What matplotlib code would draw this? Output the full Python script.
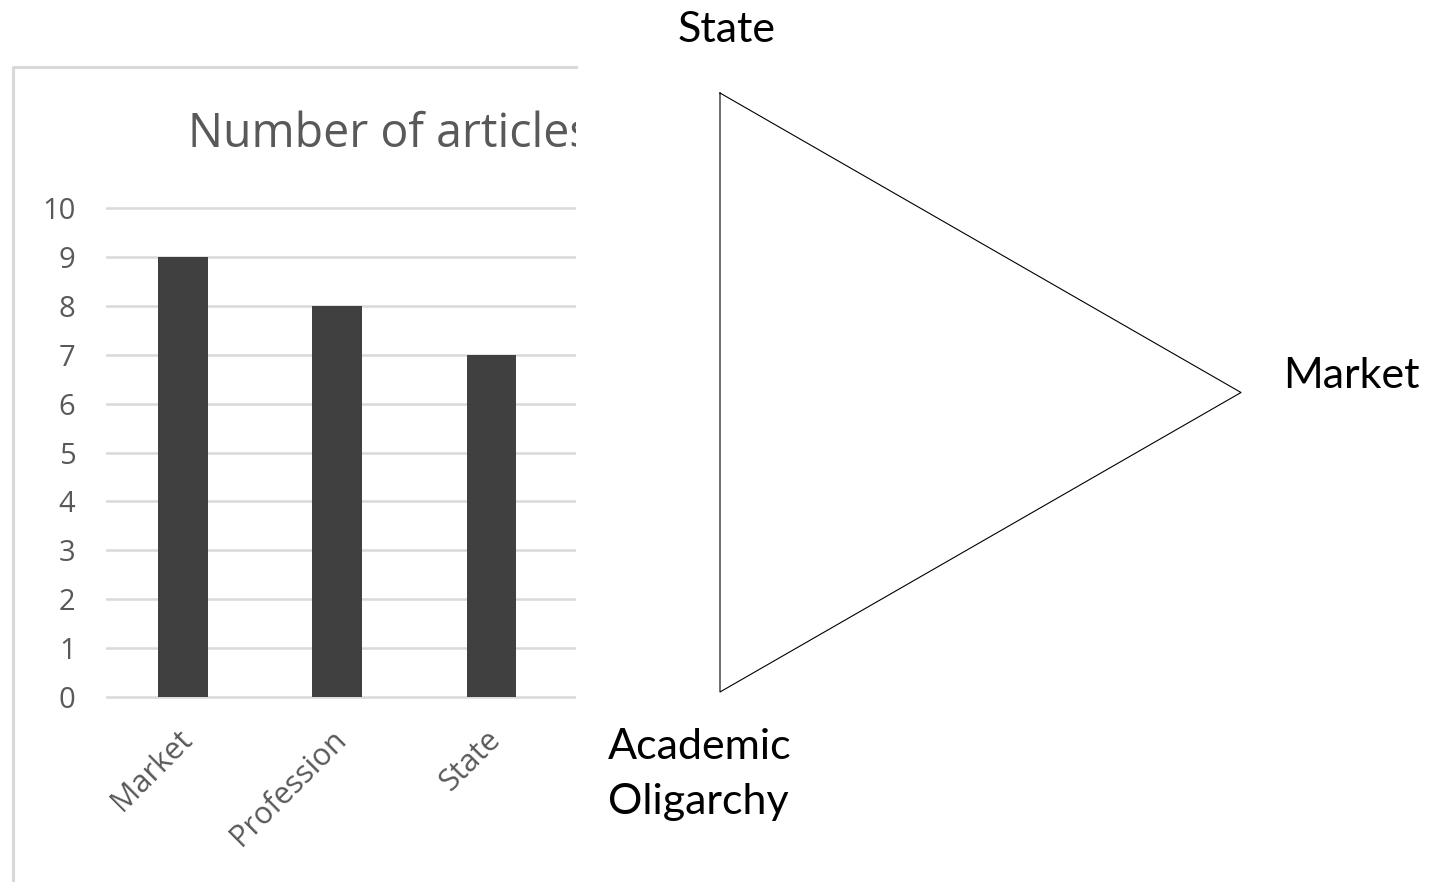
import matplotlib.pyplot as plt
from matplotlib.lines import Line2D
from matplotlib.transforms import Bbox, ScaledTranslation

# 記事数（左の棒グラフ）
categories = ["Market", "Profession", "State"]
articles = [9, 8, 7]
y_ticks = [0, 1, 2, 3, 4, 5, 6, 7, 8, 9, 10]
chart_title = "Number of articles"

# 三角形の頂点（右の図）
corner_labels = ["State", "Market", "Academic\nOligarchy"]
corner_x = [0, 1, 0]
corner_y = [1, 0.5, 0]

W, H = 1430, 882
GRAY = "#595959"
LIGHT = "#d9d9d9"

fig = plt.figure(figsize=(W / 100, H / 100), dpi=100)


def fx(px):
    return px / W


def fy(py):
    return 1 - py / H


# 棒グラフの外枠（右側は切れている）
fig.add_artist(Line2D([fx(13), fx(13), fx(576)], [0, fy(67), fy(67)],
                      transform=fig.transFigure, color=LIGHT, lw=2.2))

# 棒グラフ
unit = (697 - 208) / 10
ax = fig.add_axes([fx(106), fy(697 + 0.2 * unit), fx(576) - fx(106),
                   (10.4 * unit) / H])
ax.bar(range(len(categories)), articles, width=0.32, color="#404040",
       zorder=3)
ax.set_xlim(-0.5, 2.55)
ax.set_ylim(-0.2, 10.2)
ax.set_yticks(y_ticks)
ax.yaxis.grid(True, color=LIGHT, lw=1.8)
ax.set_axisbelow(True)
for s in ax.spines.values():
    s.set_visible(False)
ax.tick_params(length=0, labelcolor=GRAY, labelsize=21)
ax.tick_params(axis="y", pad=22)
ax.set_xticks(range(len(categories)))
ax.set_xticklabels(categories, rotation=45, ha="right", va="center",
                   rotation_mode="anchor", fontsize=22)
ax.tick_params(axis="x", pad=20)
shift = ScaledTranslation(5 / 100, 0, fig.dpi_scale_trans)
for lab in ax.get_xticklabels() + ax.get_yticklabels():
    lab.set_family("Open Sans")
for lab in ax.get_xticklabels():
    lab.set_transform(lab.get_transform() + shift)

# タイトル（右端で切れる）
t = fig.text(fx(188), fy(147), chart_title, fontsize=33.5, color=GRAY,
             family="Open Sans", ha="left", va="baseline")
t.set_clip_box(Bbox([[0, 0], [576, H]]))
t.set_clip_on(True)

# 三角形
tri = fig.add_axes([fx(720), fy(692), fx(1241) - fx(720), fy(93) - fy(692)])
tri.plot(corner_x + corner_x[:1], corner_y + corner_y[:1], color="black",
         lw=0.8, clip_on=False)
tri.set_xlim(0, 1)
tri.set_ylim(0, 1)
tri.axis("off")

offsets = [(5, 36.7), (30, 2.9), (-14.4, -26)]
aligns = [("center", "baseline"), ("left", "baseline"), ("center", "top")]
for lab, x, y, off, (ha, va) in zip(corner_labels, corner_x, corner_y,
                                    offsets, aligns):
    tri.annotate(lab, (x, y), xytext=off, textcoords="offset points",
                 ha=ha, va=va, fontsize=31, family="Lato", color="black",
                 linespacing=1.55, multialignment="left",
                 annotation_clip=False)

fig.savefig("out.png", dpi=100)
